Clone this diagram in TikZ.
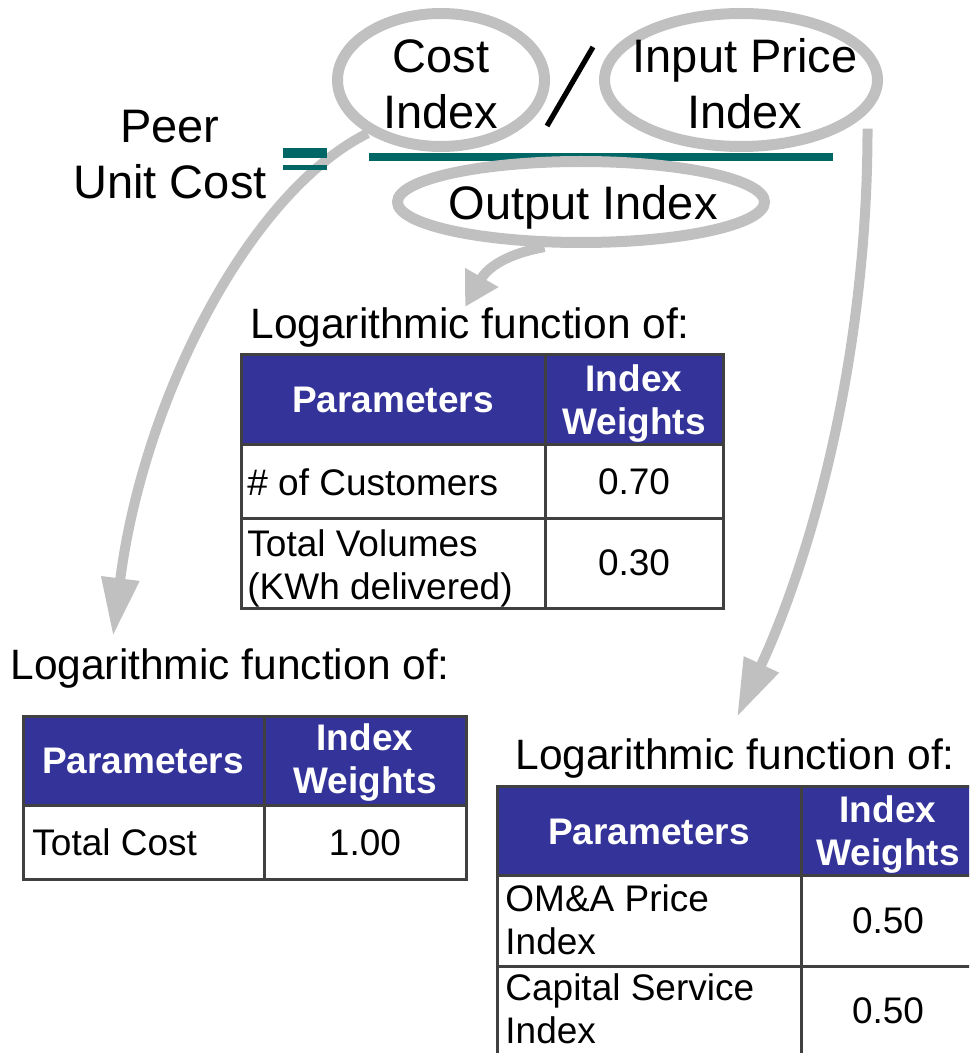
\documentclass[tikz,border=0pt]{standalone}
\usepackage{fontspec}
\setmainfont{Liberation Sans}
\usetikzlibrary{shapes.geometric,arrows.meta}
\definecolor{eqteal}{RGB}{0,102,102}
\definecolor{ringgray}{RGB}{192,192,192}
\definecolor{headblue}{RGB}{51,51,153}
\definecolor{linegray}{RGB}{64,64,64}

\begin{document}
\begin{tikzpicture}[x=0.5pt,y=-0.5pt,
		ring/.style={draw=ringgray,line width=5.5pt,ellipse,inner sep=0pt},
		big/.style={font=\fontsize{23.5pt}{28pt}\selectfont,align=center,inner sep=0pt},
		logtxt/.style={font=\fontsize{21.25pt}{25pt}\selectfont,inner sep=0pt,anchor=base west},
		cell/.style={font=\fontsize{18.5pt}{21.5pt}\selectfont,inner sep=0pt},
		head/.style={font=\fontsize{18.5pt}{21.5pt}\selectfont\bfseries,text=white,align=center,inner sep=0pt},
		tabline/.style={draw=linegray,line width=1.5pt},
		longarrow/.style={draw=ringgray,line width=5pt,-{Triangle[length=29pt,width=18pt]}},
		shortarrow/.style={draw=ringgray,line width=5pt,-{Triangle[length=17pt,width=18pt]}}]
		\useasboundingbox (0,0) rectangle (969,1053);
		\clip (0,0) rectangle (969,1053);
		
		% fraction bar and slash
		\fill[eqteal] (369,153) rectangle (833,161);
		\draw[line width=2.6pt] (593,47) -- (547,126);
		
		\node[ring,minimum width=103.5pt,minimum height=66.5pt] (cost) at (441,80) {};
		\node[ring,minimum width=136.5pt,minimum height=66.5pt] (input) at (741,80) {};
		\node[ring,minimum width=183.5pt,minimum height=40.5pt] (output) at (581,202) {};
		\node[big] (costtxt) at (441,84) {Cost\\Index};
		\node[big] (inputtxt) at (745,84) {Input Price\\Index};
		\node[big] (outputtxt) at (583,207) {Output Index};
		\node[big] (peer) at (170,155) {Peer\\Unit Cost};
		
		\coordinate (costend) at (113,636);
		\coordinate (outend) at (465,307);
		\coordinate (inend) at (737,717);
		\draw[longarrow] (cost.216) .. controls +(-120,60) and +(30,-235) .. (costend);
		\draw[shortarrow] (output.231) .. controls +(-45,8) and +(20,-35) .. (outend);
		\draw[longarrow] ([xshift=11pt]input.335) .. controls +(0,232) and +(73,-157) .. (inend);
		
		% equals sign
		\fill[eqteal] (283,148) rectangle (327,158);
		\fill[eqteal] (283,165) rectangle (327,170);
		
		% output index table
		\node[logtxt] (logmid) at (250,338) {Logarithmic function of:};
		\fill[headblue] (241,354) rectangle (723,444);
		\draw[tabline] (241,354) rectangle (723,608) (241,444) -- (723,444) (241,518) -- (723,518) (545,354) -- (545,608);
		\node[head] (midpar) at (393,400) {Parameters};
		\node[head] (midwt) at (634,404) {Index\\Weights};
		\node[cell,anchor=west] (cust) at (247,482) {\# of Customers};
		\node[cell] (custwt) at (634,482) {0.70};
		\node[cell,anchor=west,align=left] (vol) at (247,568) {Total Volumes\\(KWh delivered)};
		\node[cell] (volwt) at (634,563) {0.30};
		
		% cost index table
		\node[logtxt] (logleft) at (10,679) {Logarithmic function of:};
		\fill[headblue] (23,716) rectangle (466,805);
		\draw[tabline] (23,716) rectangle (466,879) (23,805) -- (466,805) (264,716) -- (264,879);
		\node[head] (leftpar) at (143,761) {Parameters};
		\node[head] (leftwt) at (365,763) {Index\\Weights};
		\node[cell,anchor=west] (tcost) at (32,842) {Total Cost};
		\node[cell] (tcostwt) at (365,843) {1.00};
		
		% input price table
		\node[logtxt] (logright) at (515,769) {Logarithmic function of:};
		\fill[headblue] (497,786) rectangle (980,875);
		\draw[tabline] (497,786) rectangle (980,1060) (497,875) -- (980,875) (497,966) -- (980,966) (801,786) -- (801,1060);
		\node[head] (rightpar) at (649,832) {Parameters};
		\node[head] (rightwt) at (888,835) {Index\\Weights};
		\node[cell,anchor=west,align=left] (oma) at (505,920) {OM\&A Price\\Index};
		\node[cell] (omawt) at (888,921) {0.50};
		\node[cell,anchor=west,align=left] (capsrv) at (505,1009) {Capital Service\\Index};
		\node[cell] (capsrvwt) at (888,1011) {0.50};
	\end{tikzpicture}
\end{document}
